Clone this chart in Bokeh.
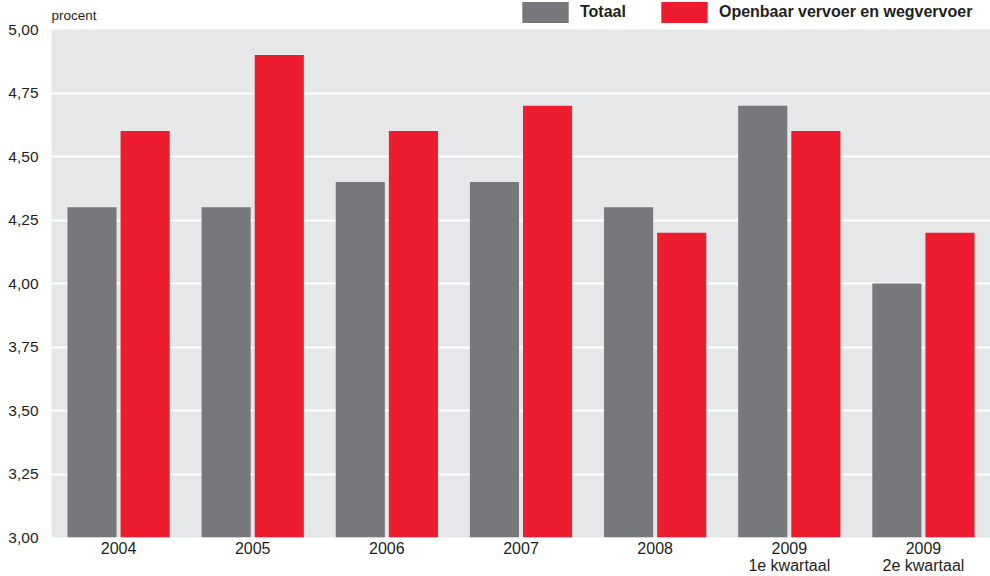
from bokeh.plotting import figure
from bokeh.layouts import column
from bokeh.models import (ColumnDataSource, FactorRange, Range1d, Legend, LegendItem, FixedTicker,
                          CustomJSTickFormatter)
from bokeh.core.properties import value
from bokeh.transform import dodge
from bokeh.embed import file_html
from bokeh.resources import INLINE

categories = ["2004", "2005", "2006", "2007", "2008", "2009\n1e kwartaal", "2009\n2e kwartaal"]
totaal = [4.30, 4.30, 4.40, 4.40, 4.30, 4.70, 4.00]
openbaar = [4.60, 4.90, 4.60, 4.70, 4.20, 4.60, 4.20]
y_ticks = [3.00, 3.25, 3.50, 3.75, 4.00, 4.25, 4.50, 4.75, 5.00]
series_names = ["Totaal", "Openbaar vervoer en wegvervoer"]
unit_label = ["procent"]

GRAY = "#77787b"
RED = "#ed1c2e"
TEXT = "#231f20"
FONT = "Liberation Sans"

src = ColumnDataSource(dict(cat=categories, totaal=totaal, openbaar=openbaar))

W, HEAD = 990, 23
FW, FH, LEFT, TOP, BOTTOM = 939, 508, 51, 6, 39

xr = FactorRange(*categories, range_padding=0)
yr = Range1d(3, 5)

# ---- main chart ----
p = figure(frame_width=FW, frame_height=FH, x_range=xr, y_range=yr,
           output_backend="svg", toolbar_location=None,
           min_border_left=LEFT, min_border_right=0, min_border_top=TOP, min_border_bottom=BOTTOM)
p.outline_line_color = None
p.background_fill_color = "#e6e7e8"
p.border_fill_color = "white"

bar_kw = dict(bottom=3, width=0.366, source=src, line_color=None)
p.vbar(x=dodge("cat", -0.198, range=xr), top="totaal", fill_color=GRAY, **bar_kw)
p.vbar(x=dodge("cat", 0.198, range=xr), top="openbaar", fill_color=RED, **bar_kw)

p.xgrid.grid_line_color = None
p.ygrid.grid_line_color = "white"
p.ygrid.grid_line_width = 2
p.ygrid.ticker = FixedTicker(ticks=y_ticks)

p.yaxis.ticker = FixedTicker(ticks=y_ticks)
p.yaxis.formatter = CustomJSTickFormatter(code="return tick.toFixed(2).replace('.', ',');")
for ax in (p.xaxis[0], p.yaxis[0]):
    ax.axis_line_color = None
    ax.major_tick_line_color = None
    ax.minor_tick_line_color = None
    ax.major_tick_out = 0
    ax.major_tick_in = 0
    ax.major_label_text_font = FONT
    ax.major_label_text_font_size = "16px"
    ax.major_label_text_color = TEXT
p.yaxis.major_label_text_font_size = "15.5px"
p.yaxis.major_label_standoff = 13
p.xaxis.major_label_standoff = 2
p.xaxis.major_label_text_line_height = 1.0

# ---- header with unit label and legend (y measured in pixels from the top) ----
h = figure(frame_width=W, frame_height=HEAD, x_range=Range1d(0, W), y_range=Range1d(HEAD, 0),
           output_backend="svg", toolbar_location=None,
           x_axis_type=None, y_axis_type=None,
           min_border_left=0, min_border_right=0, min_border_top=0, min_border_bottom=0)
h.outline_line_color = None
h.background_fill_color = "white"
h.border_fill_color = "white"
h.xgrid.visible = False
h.ygrid.visible = False

# legend keys only (hidden renderers supply the swatch colours)
hr1 = h.vbar(x=0, top=0, width=1, fill_color=GRAY, line_color=None, visible=False)
hr2 = h.vbar(x=0, top=0, width=1, fill_color=RED, line_color=None, visible=False)

GH = 26  # swatch drawn at 80% of the glyph box
legend = Legend(items=[LegendItem(label=series_names[0], renderers=[hr1]),
                       LegendItem(label=series_names[1], renderers=[hr2])],
                orientation="horizontal", location=(516, HEAD - 25),
                glyph_width=58, glyph_height=GH, label_standoff=6, spacing=29,
                padding=0, margin=0, border_line_color=None, background_fill_alpha=0,
                inactive_fill_alpha=0,
                label_text_font=FONT, label_text_font_size="16px", label_text_font_style="bold",
                label_text_color=TEXT, label_height=GH)
h.add_layout(legend)

# header frame is aligned with the main frame's left edge by the column layout
h.text(x=[0], y=[15], text=unit_label, text_font=value(FONT), text_font_size="13.5px",
       text_color=TEXT, text_baseline="alphabetic", text_align="left")

layout = column(h, p, spacing=0)
open("out.html", "w").write(file_html(layout, INLINE))
